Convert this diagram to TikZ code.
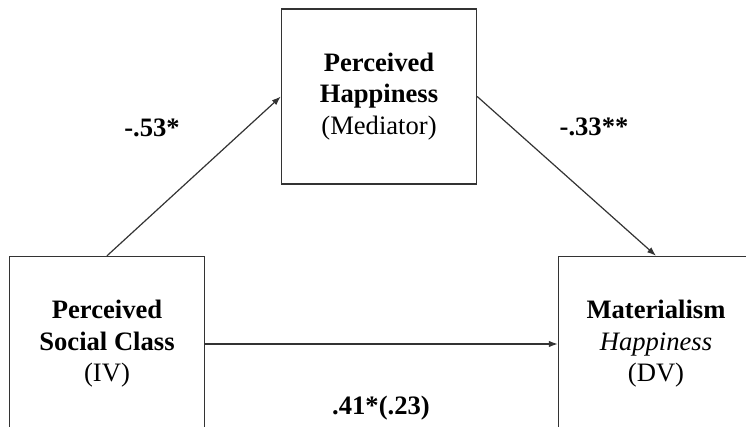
\documentclass[tikz,border=0pt]{standalone}
\usepackage{fontspec}
\setmainfont{Liberation Serif}
\usetikzlibrary{arrows.meta}
\begin{document}
\begin{tikzpicture}[x=1pt,y=-1pt,
  box/.style={draw=black!80, line width=1.4pt, minimum width=195pt, minimum height=175pt, align=center, inner sep=0pt, font=\fontsize{26.6}{31.5}\selectfont},
  conn/.style={draw=black!80, line width=1.2pt, -{Latex[length=9pt,width=6.5pt]}},
  lbl/.style={inner sep=0pt, font=\fontsize{26.6}{31}\selectfont\bfseries}]
\useasboundingbox (0,0) rectangle (746,427);
\node[box] (L) at (107,344) {\textbf{Perceived}\\\textbf{Social Class}\\(IV)};
\node[box] (T) at (379,96.5) {\textbf{Perceived}\\\textbf{Happiness}\\(Mediator)};
\node[box] (R) at (656,344) {\textbf{Materialism}\\\textit{Happiness}\\(DV)};
\draw[conn] (L.north) -- (T.west);
\draw[conn] (T.east) -- (R.north);
\draw[conn] (L.east) -- (R.west);
\node[lbl] (a) at (152,128) {-.53*};
\node[lbl] (b) at (594,127) {-.33**};
\node[lbl] (c) at (381,408) {.41*(.23)};
\end{tikzpicture}
\end{document}
